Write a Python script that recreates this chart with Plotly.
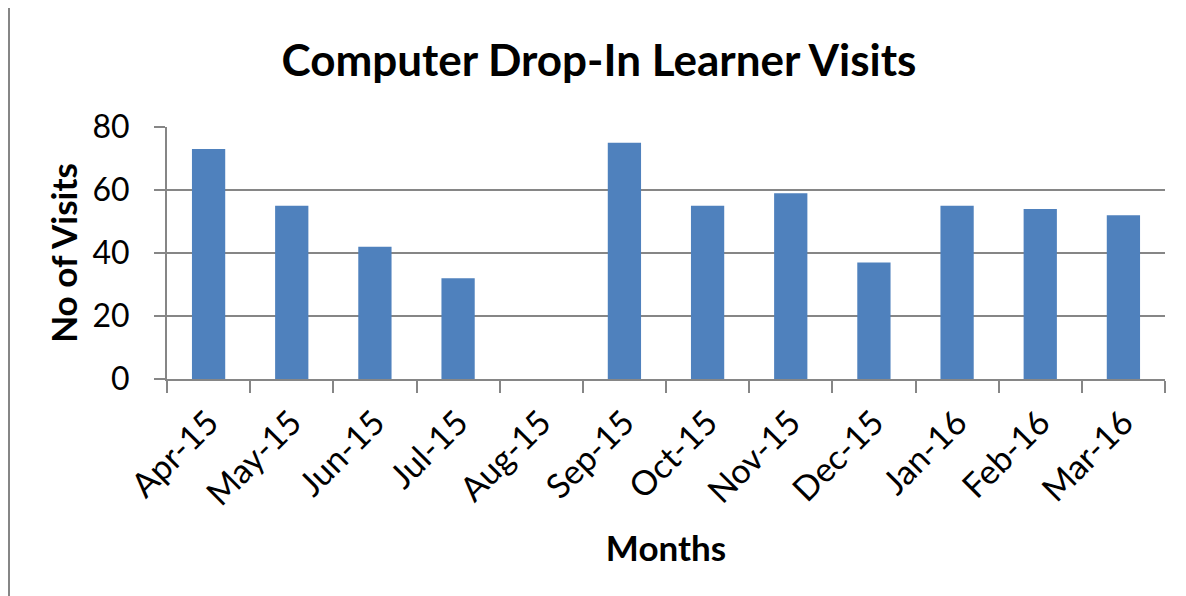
import plotly.graph_objects as go

months = ["Apr-15", "May-15", "Jun-15", "Jul-15", "Aug-15", "Sep-15",
          "Oct-15", "Nov-15", "Dec-15", "Jan-16", "Feb-16", "Mar-16"]
visits = [73, 55, 42, 32, 0, 75, 55, 59, 37, 55, 54, 52]
y_ticks = [0, 20, 40, 60, 80]

FONT = "Lato"
GRID = "#868686"

fig = go.Figure(go.Bar(x=months, y=visits, marker=dict(color="#4F81BD", line=dict(width=0)),
                       width=0.4))

# page body has an 8px margin, so the figure is offset by 8px
OFF = 8
W, H = 1186 - OFF, 596 - OFF
L, R, T, B = 167 - OFF, 1165 - OFF, 127 - OFF, 379 - OFF

fig.update_layout(
    width=W, height=H,
    margin=dict(l=L, r=W - R, t=T, b=H - B),
    paper_bgcolor="white", plot_bgcolor="white",
    showlegend=False,
    title=dict(text="<b>Computer Drop-In Learner Visits</b>",
               font=dict(family=FONT, size=44, color="black"),
               x=(599 - OFF) / W, xref="container", xanchor="center",
               y=1 - (61 - OFF) / H, yref="container", yanchor="middle"),
    font=dict(family=FONT, color="black"),
)

fig.update_xaxes(
    type="category",
    showline=True, linecolor=GRID, linewidth=2,
    ticks="outside", tickson="boundaries", ticklen=12, tickwidth=2, tickcolor=GRID,
    tickangle=-45, tickfont=dict(family=FONT, size=34, color="black"),
    ticklabelstandoff=8,
    showgrid=False,
    title=dict(text="<b>Months</b>", font=dict(family=FONT, size=35, color="black"), standoff=25),
)
fig.update_yaxes(
    range=[0, 80], tickvals=y_ticks,
    showline=True, linecolor=GRID, linewidth=2,
    ticks="outside", ticklen=11, tickwidth=2, tickcolor=GRID,
    tickfont=dict(family=FONT, size=32, color="black"),
    ticklabelstandoff=18,
    showgrid=True, gridcolor=GRID, gridwidth=2,
    zeroline=False,
    title=dict(text="<b>No of Visits</b>", font=dict(family=FONT, size=35, color="black"), standoff=4),
)

# chart-area border fragment on the left edge (spans full height)
fig.add_shape(type="line", xref="paper", yref="paper",
              x0=(9 - 167) / (R - L), x1=(9 - 167) / (R - L),
              y0=(B + 10) / (B - T), y1=-(H - B + 10) / (B - T),
              line=dict(color=GRID, width=2))

fig.write_html("out.html")
